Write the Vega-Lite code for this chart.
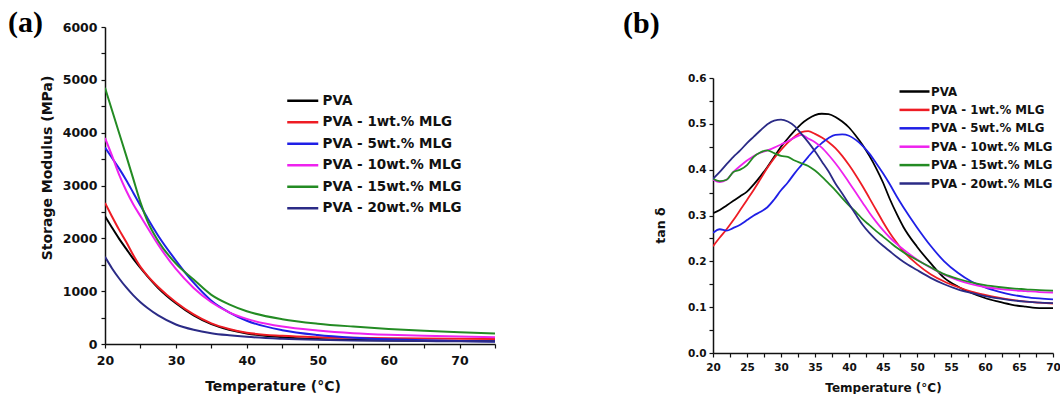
{
  "$schema": "https://vega.github.io/schema/vega-lite/v6.json",
  "padding": {"left": 8, "top": 8, "right": 0, "bottom": 0},
  "config": {
    "view": {"stroke": null},
    "font": "DejaVu Sans",
    "axis": {"grid": false, "domainColor": "#111", "domainWidth": 1.5, "tickColor": "#111", "tickWidth": 1.2, "tickSize": 4, "labelColor": "#111", "labelFont": "DejaVu Sans", "labelFontWeight": "bold", "titleColor": "#111", "titleFont": "DejaVu Sans", "titleFontWeight": "bold", "labelFlush": false, "labelOverlap": false},
    "legend": {"padding": 0, "labelFont": "DejaVu Sans", "labelFontWeight": "bold", "labelColor": "#111", "labelLimit": 400, "symbolStrokeWidth": 2.5, "orient": "none"},
    "title": {"font": "Liberation Serif", "fontSize": 30, "fontWeight": "bold", "anchor": "start", "frame": "group", "color": "#000"}
  },
  "datasets": {
    "sm": [
      {"s":"PVA","T":20,"E":2420},{"s":"PVA","T":21,"E":2200},{"s":"PVA","T":22,"E":1990},{"s":"PVA","T":23,"E":1800},{"s":"PVA","T":24,"E":1610},{"s":"PVA","T":25,"E":1440},{"s":"PVA","T":26,"E":1280},{"s":"PVA","T":27.5,"E":1060},{"s":"PVA","T":30,"E":770},{"s":"PVA","T":32.5,"E":540},{"s":"PVA","T":35,"E":375},{"s":"PVA","T":37.5,"E":270},{"s":"PVA","T":40,"E":200},{"s":"PVA","T":45,"E":130},{"s":"PVA","T":50,"E":95},{"s":"PVA","T":55,"E":78},{"s":"PVA","T":60,"E":68},{"s":"PVA","T":65,"E":62},{"s":"PVA","T":70,"E":57},{"s":"PVA","T":75,"E":54},
      {"s":"PVA - 1wt.% MLG","T":20,"E":2670},{"s":"PVA - 1wt.% MLG","T":21,"E":2410},{"s":"PVA - 1wt.% MLG","T":22,"E":2160},{"s":"PVA - 1wt.% MLG","T":23,"E":1930},{"s":"PVA - 1wt.% MLG","T":24,"E":1680},{"s":"PVA - 1wt.% MLG","T":25,"E":1460},{"s":"PVA - 1wt.% MLG","T":26,"E":1290},{"s":"PVA - 1wt.% MLG","T":27.5,"E":1080},{"s":"PVA - 1wt.% MLG","T":30,"E":790},{"s":"PVA - 1wt.% MLG","T":32.5,"E":560},{"s":"PVA - 1wt.% MLG","T":35,"E":390},{"s":"PVA - 1wt.% MLG","T":37.5,"E":285},{"s":"PVA - 1wt.% MLG","T":40,"E":215},{"s":"PVA - 1wt.% MLG","T":45,"E":155},{"s":"PVA - 1wt.% MLG","T":50,"E":128},{"s":"PVA - 1wt.% MLG","T":55,"E":116},{"s":"PVA - 1wt.% MLG","T":60,"E":108},{"s":"PVA - 1wt.% MLG","T":65,"E":103},{"s":"PVA - 1wt.% MLG","T":70,"E":99},{"s":"PVA - 1wt.% MLG","T":75,"E":96},
      {"s":"PVA - 5wt.% MLG","T":20,"E":3720},{"s":"PVA - 5wt.% MLG","T":21,"E":3520},{"s":"PVA - 5wt.% MLG","T":22,"E":3320},{"s":"PVA - 5wt.% MLG","T":23,"E":3100},{"s":"PVA - 5wt.% MLG","T":24,"E":2860},{"s":"PVA - 5wt.% MLG","T":25,"E":2620},{"s":"PVA - 5wt.% MLG","T":26,"E":2380},{"s":"PVA - 5wt.% MLG","T":27.5,"E":2050},{"s":"PVA - 5wt.% MLG","T":30,"E":1580},{"s":"PVA - 5wt.% MLG","T":32.5,"E":1160},{"s":"PVA - 5wt.% MLG","T":35,"E":820},{"s":"PVA - 5wt.% MLG","T":37.5,"E":600},{"s":"PVA - 5wt.% MLG","T":40,"E":440},{"s":"PVA - 5wt.% MLG","T":45,"E":260},{"s":"PVA - 5wt.% MLG","T":50,"E":170},{"s":"PVA - 5wt.% MLG","T":55,"E":120},{"s":"PVA - 5wt.% MLG","T":60,"E":90},{"s":"PVA - 5wt.% MLG","T":65,"E":70},{"s":"PVA - 5wt.% MLG","T":70,"E":55},{"s":"PVA - 5wt.% MLG","T":75,"E":45},
      {"s":"PVA - 10wt.% MLG","T":20,"E":3900},{"s":"PVA - 10wt.% MLG","T":21,"E":3560},{"s":"PVA - 10wt.% MLG","T":22,"E":3200},{"s":"PVA - 10wt.% MLG","T":23,"E":2900},{"s":"PVA - 10wt.% MLG","T":24,"E":2640},{"s":"PVA - 10wt.% MLG","T":25,"E":2420},{"s":"PVA - 10wt.% MLG","T":26,"E":2200},{"s":"PVA - 10wt.% MLG","T":27.5,"E":1880},{"s":"PVA - 10wt.% MLG","T":30,"E":1420},{"s":"PVA - 10wt.% MLG","T":32.5,"E":1060},{"s":"PVA - 10wt.% MLG","T":35,"E":790},{"s":"PVA - 10wt.% MLG","T":37.5,"E":600},{"s":"PVA - 10wt.% MLG","T":40,"E":475},{"s":"PVA - 10wt.% MLG","T":45,"E":330},{"s":"PVA - 10wt.% MLG","T":50,"E":255},{"s":"PVA - 10wt.% MLG","T":55,"E":205},{"s":"PVA - 10wt.% MLG","T":60,"E":175},{"s":"PVA - 10wt.% MLG","T":65,"E":155},{"s":"PVA - 10wt.% MLG","T":70,"E":140},{"s":"PVA - 10wt.% MLG","T":75,"E":130},
      {"s":"PVA - 15wt.% MLG","T":20,"E":4850},{"s":"PVA - 15wt.% MLG","T":21,"E":4420},{"s":"PVA - 15wt.% MLG","T":22,"E":3990},{"s":"PVA - 15wt.% MLG","T":23,"E":3560},{"s":"PVA - 15wt.% MLG","T":24,"E":3120},{"s":"PVA - 15wt.% MLG","T":25,"E":2680},{"s":"PVA - 15wt.% MLG","T":26,"E":2320},{"s":"PVA - 15wt.% MLG","T":27.5,"E":1950},{"s":"PVA - 15wt.% MLG","T":30,"E":1520},{"s":"PVA - 15wt.% MLG","T":32.5,"E":1220},{"s":"PVA - 15wt.% MLG","T":35,"E":930},{"s":"PVA - 15wt.% MLG","T":37.5,"E":750},{"s":"PVA - 15wt.% MLG","T":40,"E":620},{"s":"PVA - 15wt.% MLG","T":45,"E":470},{"s":"PVA - 15wt.% MLG","T":50,"E":385},{"s":"PVA - 15wt.% MLG","T":55,"E":330},{"s":"PVA - 15wt.% MLG","T":60,"E":285},{"s":"PVA - 15wt.% MLG","T":65,"E":250},{"s":"PVA - 15wt.% MLG","T":70,"E":222},{"s":"PVA - 15wt.% MLG","T":75,"E":200},
      {"s":"PVA - 20wt.% MLG","T":20,"E":1650},{"s":"PVA - 20wt.% MLG","T":21,"E":1430},{"s":"PVA - 20wt.% MLG","T":22,"E":1240},{"s":"PVA - 20wt.% MLG","T":23,"E":1070},{"s":"PVA - 20wt.% MLG","T":24,"E":920},{"s":"PVA - 20wt.% MLG","T":25,"E":790},{"s":"PVA - 20wt.% MLG","T":26,"E":680},{"s":"PVA - 20wt.% MLG","T":27.5,"E":540},{"s":"PVA - 20wt.% MLG","T":30,"E":370},{"s":"PVA - 20wt.% MLG","T":32.5,"E":270},{"s":"PVA - 20wt.% MLG","T":35,"E":205},{"s":"PVA - 20wt.% MLG","T":37.5,"E":165},{"s":"PVA - 20wt.% MLG","T":40,"E":135},{"s":"PVA - 20wt.% MLG","T":45,"E":100},{"s":"PVA - 20wt.% MLG","T":50,"E":80},{"s":"PVA - 20wt.% MLG","T":55,"E":68},{"s":"PVA - 20wt.% MLG","T":60,"E":60},{"s":"PVA - 20wt.% MLG","T":65,"E":55},{"s":"PVA - 20wt.% MLG","T":70,"E":50},{"s":"PVA - 20wt.% MLG","T":75,"E":48}
    ],
    "td": [
      {"s":"PVA","T":20,"v":0.305},{"s":"PVA","T":21,"v":0.312},{"s":"PVA","T":22,"v":0.322},{"s":"PVA","T":23,"v":0.332},{"s":"PVA","T":24,"v":0.342},{"s":"PVA","T":25,"v":0.352},{"s":"PVA","T":26,"v":0.368},{"s":"PVA","T":27,"v":0.386},{"s":"PVA","T":28,"v":0.406},{"s":"PVA","T":29,"v":0.428},{"s":"PVA","T":30,"v":0.45},{"s":"PVA","T":31,"v":0.468},{"s":"PVA","T":32,"v":0.485},{"s":"PVA","T":33,"v":0.5},{"s":"PVA","T":34,"v":0.511},{"s":"PVA","T":35,"v":0.519},{"s":"PVA","T":36,"v":0.522},{"s":"PVA","T":37,"v":0.521},{"s":"PVA","T":38,"v":0.515},{"s":"PVA","T":39,"v":0.505},{"s":"PVA","T":40,"v":0.492},{"s":"PVA","T":41,"v":0.474},{"s":"PVA","T":42,"v":0.454},{"s":"PVA","T":43,"v":0.43},{"s":"PVA","T":44,"v":0.403},{"s":"PVA","T":45,"v":0.372},{"s":"PVA","T":46,"v":0.336},{"s":"PVA","T":47,"v":0.304},{"s":"PVA","T":48,"v":0.275},{"s":"PVA","T":50,"v":0.232},{"s":"PVA","T":52,"v":0.196},{"s":"PVA","T":54,"v":0.164},{"s":"PVA","T":56,"v":0.145},{"s":"PVA","T":58,"v":0.131},{"s":"PVA","T":60,"v":0.12},{"s":"PVA","T":62,"v":0.112},{"s":"PVA","T":64,"v":0.105},{"s":"PVA","T":66,"v":0.101},{"s":"PVA","T":68,"v":0.098},{"s":"PVA","T":70,"v":0.098},
      {"s":"PVA - 1wt.% MLG","T":20,"v":0.233},{"s":"PVA - 1wt.% MLG","T":21,"v":0.252},{"s":"PVA - 1wt.% MLG","T":22,"v":0.27},{"s":"PVA - 1wt.% MLG","T":23,"v":0.29},{"s":"PVA - 1wt.% MLG","T":24,"v":0.312},{"s":"PVA - 1wt.% MLG","T":25,"v":0.334},{"s":"PVA - 1wt.% MLG","T":26,"v":0.356},{"s":"PVA - 1wt.% MLG","T":27,"v":0.38},{"s":"PVA - 1wt.% MLG","T":28,"v":0.404},{"s":"PVA - 1wt.% MLG","T":29,"v":0.425},{"s":"PVA - 1wt.% MLG","T":30,"v":0.443},{"s":"PVA - 1wt.% MLG","T":31,"v":0.459},{"s":"PVA - 1wt.% MLG","T":32,"v":0.472},{"s":"PVA - 1wt.% MLG","T":33,"v":0.482},{"s":"PVA - 1wt.% MLG","T":34,"v":0.484},{"s":"PVA - 1wt.% MLG","T":35,"v":0.478},{"s":"PVA - 1wt.% MLG","T":36,"v":0.47},{"s":"PVA - 1wt.% MLG","T":37,"v":0.46},{"s":"PVA - 1wt.% MLG","T":38,"v":0.447},{"s":"PVA - 1wt.% MLG","T":39,"v":0.43},{"s":"PVA - 1wt.% MLG","T":40,"v":0.41},{"s":"PVA - 1wt.% MLG","T":41,"v":0.388},{"s":"PVA - 1wt.% MLG","T":42,"v":0.364},{"s":"PVA - 1wt.% MLG","T":43,"v":0.338},{"s":"PVA - 1wt.% MLG","T":44,"v":0.312},{"s":"PVA - 1wt.% MLG","T":45,"v":0.286},{"s":"PVA - 1wt.% MLG","T":46,"v":0.262},{"s":"PVA - 1wt.% MLG","T":47,"v":0.241},{"s":"PVA - 1wt.% MLG","T":48,"v":0.222},{"s":"PVA - 1wt.% MLG","T":50,"v":0.194},{"s":"PVA - 1wt.% MLG","T":52,"v":0.172},{"s":"PVA - 1wt.% MLG","T":54,"v":0.156},{"s":"PVA - 1wt.% MLG","T":56,"v":0.144},{"s":"PVA - 1wt.% MLG","T":58,"v":0.134},{"s":"PVA - 1wt.% MLG","T":60,"v":0.127},{"s":"PVA - 1wt.% MLG","T":62,"v":0.121},{"s":"PVA - 1wt.% MLG","T":64,"v":0.116},{"s":"PVA - 1wt.% MLG","T":66,"v":0.112},{"s":"PVA - 1wt.% MLG","T":68,"v":0.11},{"s":"PVA - 1wt.% MLG","T":70,"v":0.108},
      {"s":"PVA - 5wt.% MLG","T":20,"v":0.262},{"s":"PVA - 5wt.% MLG","T":21,"v":0.27},{"s":"PVA - 5wt.% MLG","T":22,"v":0.267},{"s":"PVA - 5wt.% MLG","T":23,"v":0.273},{"s":"PVA - 5wt.% MLG","T":24,"v":0.28},{"s":"PVA - 5wt.% MLG","T":25,"v":0.29},{"s":"PVA - 5wt.% MLG","T":26,"v":0.3},{"s":"PVA - 5wt.% MLG","T":27,"v":0.308},{"s":"PVA - 5wt.% MLG","T":28,"v":0.318},{"s":"PVA - 5wt.% MLG","T":29,"v":0.335},{"s":"PVA - 5wt.% MLG","T":30,"v":0.355},{"s":"PVA - 5wt.% MLG","T":31,"v":0.372},{"s":"PVA - 5wt.% MLG","T":32,"v":0.392},{"s":"PVA - 5wt.% MLG","T":33,"v":0.41},{"s":"PVA - 5wt.% MLG","T":34,"v":0.428},{"s":"PVA - 5wt.% MLG","T":35,"v":0.445},{"s":"PVA - 5wt.% MLG","T":36,"v":0.458},{"s":"PVA - 5wt.% MLG","T":37,"v":0.469},{"s":"PVA - 5wt.% MLG","T":38,"v":0.476},{"s":"PVA - 5wt.% MLG","T":39,"v":0.477},{"s":"PVA - 5wt.% MLG","T":40,"v":0.474},{"s":"PVA - 5wt.% MLG","T":41,"v":0.465},{"s":"PVA - 5wt.% MLG","T":42,"v":0.452},{"s":"PVA - 5wt.% MLG","T":43,"v":0.435},{"s":"PVA - 5wt.% MLG","T":44,"v":0.414},{"s":"PVA - 5wt.% MLG","T":45,"v":0.392},{"s":"PVA - 5wt.% MLG","T":46,"v":0.368},{"s":"PVA - 5wt.% MLG","T":47,"v":0.342},{"s":"PVA - 5wt.% MLG","T":48,"v":0.318},{"s":"PVA - 5wt.% MLG","T":50,"v":0.274},{"s":"PVA - 5wt.% MLG","T":52,"v":0.234},{"s":"PVA - 5wt.% MLG","T":54,"v":0.2},{"s":"PVA - 5wt.% MLG","T":56,"v":0.175},{"s":"PVA - 5wt.% MLG","T":58,"v":0.156},{"s":"PVA - 5wt.% MLG","T":60,"v":0.143},{"s":"PVA - 5wt.% MLG","T":62,"v":0.134},{"s":"PVA - 5wt.% MLG","T":64,"v":0.127},{"s":"PVA - 5wt.% MLG","T":66,"v":0.122},{"s":"PVA - 5wt.% MLG","T":68,"v":0.119},{"s":"PVA - 5wt.% MLG","T":70,"v":0.117},
      {"s":"PVA - 10wt.% MLG","T":20,"v":0.378},{"s":"PVA - 10wt.% MLG","T":21,"v":0.373},{"s":"PVA - 10wt.% MLG","T":22,"v":0.378},{"s":"PVA - 10wt.% MLG","T":23,"v":0.395},{"s":"PVA - 10wt.% MLG","T":24,"v":0.408},{"s":"PVA - 10wt.% MLG","T":25,"v":0.42},{"s":"PVA - 10wt.% MLG","T":26,"v":0.43},{"s":"PVA - 10wt.% MLG","T":27,"v":0.437},{"s":"PVA - 10wt.% MLG","T":28,"v":0.442},{"s":"PVA - 10wt.% MLG","T":29,"v":0.448},{"s":"PVA - 10wt.% MLG","T":30,"v":0.455},{"s":"PVA - 10wt.% MLG","T":31,"v":0.462},{"s":"PVA - 10wt.% MLG","T":32,"v":0.47},{"s":"PVA - 10wt.% MLG","T":33,"v":0.476},{"s":"PVA - 10wt.% MLG","T":34,"v":0.468},{"s":"PVA - 10wt.% MLG","T":35,"v":0.46},{"s":"PVA - 10wt.% MLG","T":36,"v":0.448},{"s":"PVA - 10wt.% MLG","T":37,"v":0.432},{"s":"PVA - 10wt.% MLG","T":38,"v":0.414},{"s":"PVA - 10wt.% MLG","T":39,"v":0.394},{"s":"PVA - 10wt.% MLG","T":40,"v":0.372},{"s":"PVA - 10wt.% MLG","T":41,"v":0.35},{"s":"PVA - 10wt.% MLG","T":42,"v":0.328},{"s":"PVA - 10wt.% MLG","T":43,"v":0.306},{"s":"PVA - 10wt.% MLG","T":44,"v":0.286},{"s":"PVA - 10wt.% MLG","T":45,"v":0.268},{"s":"PVA - 10wt.% MLG","T":46,"v":0.252},{"s":"PVA - 10wt.% MLG","T":47,"v":0.238},{"s":"PVA - 10wt.% MLG","T":48,"v":0.226},{"s":"PVA - 10wt.% MLG","T":50,"v":0.204},{"s":"PVA - 10wt.% MLG","T":52,"v":0.186},{"s":"PVA - 10wt.% MLG","T":54,"v":0.171},{"s":"PVA - 10wt.% MLG","T":56,"v":0.159},{"s":"PVA - 10wt.% MLG","T":58,"v":0.15},{"s":"PVA - 10wt.% MLG","T":60,"v":0.144},{"s":"PVA - 10wt.% MLG","T":62,"v":0.14},{"s":"PVA - 10wt.% MLG","T":64,"v":0.137},{"s":"PVA - 10wt.% MLG","T":66,"v":0.135},{"s":"PVA - 10wt.% MLG","T":68,"v":0.133},{"s":"PVA - 10wt.% MLG","T":70,"v":0.132},
      {"s":"PVA - 15wt.% MLG","T":20,"v":0.38},{"s":"PVA - 15wt.% MLG","T":21,"v":0.375},{"s":"PVA - 15wt.% MLG","T":22,"v":0.378},{"s":"PVA - 15wt.% MLG","T":23,"v":0.395},{"s":"PVA - 15wt.% MLG","T":24,"v":0.4},{"s":"PVA - 15wt.% MLG","T":25,"v":0.41},{"s":"PVA - 15wt.% MLG","T":26,"v":0.428},{"s":"PVA - 15wt.% MLG","T":27,"v":0.438},{"s":"PVA - 15wt.% MLG","T":28,"v":0.442},{"s":"PVA - 15wt.% MLG","T":29,"v":0.436},{"s":"PVA - 15wt.% MLG","T":30,"v":0.43},{"s":"PVA - 15wt.% MLG","T":31,"v":0.428},{"s":"PVA - 15wt.% MLG","T":32,"v":0.42},{"s":"PVA - 15wt.% MLG","T":33,"v":0.414},{"s":"PVA - 15wt.% MLG","T":34,"v":0.408},{"s":"PVA - 15wt.% MLG","T":35,"v":0.398},{"s":"PVA - 15wt.% MLG","T":36,"v":0.385},{"s":"PVA - 15wt.% MLG","T":37,"v":0.37},{"s":"PVA - 15wt.% MLG","T":38,"v":0.355},{"s":"PVA - 15wt.% MLG","T":39,"v":0.338},{"s":"PVA - 15wt.% MLG","T":40,"v":0.322},{"s":"PVA - 15wt.% MLG","T":41,"v":0.308},{"s":"PVA - 15wt.% MLG","T":42,"v":0.292},{"s":"PVA - 15wt.% MLG","T":43,"v":0.279},{"s":"PVA - 15wt.% MLG","T":44,"v":0.266},{"s":"PVA - 15wt.% MLG","T":45,"v":0.254},{"s":"PVA - 15wt.% MLG","T":46,"v":0.242},{"s":"PVA - 15wt.% MLG","T":47,"v":0.23},{"s":"PVA - 15wt.% MLG","T":48,"v":0.22},{"s":"PVA - 15wt.% MLG","T":50,"v":0.203},{"s":"PVA - 15wt.% MLG","T":52,"v":0.187},{"s":"PVA - 15wt.% MLG","T":54,"v":0.172},{"s":"PVA - 15wt.% MLG","T":56,"v":0.162},{"s":"PVA - 15wt.% MLG","T":58,"v":0.154},{"s":"PVA - 15wt.% MLG","T":60,"v":0.148},{"s":"PVA - 15wt.% MLG","T":62,"v":0.144},{"s":"PVA - 15wt.% MLG","T":64,"v":0.141},{"s":"PVA - 15wt.% MLG","T":66,"v":0.139},{"s":"PVA - 15wt.% MLG","T":68,"v":0.137},{"s":"PVA - 15wt.% MLG","T":70,"v":0.136},
      {"s":"PVA - 20wt.% MLG","T":20,"v":0.38},{"s":"PVA - 20wt.% MLG","T":21,"v":0.395},{"s":"PVA - 20wt.% MLG","T":22,"v":0.412},{"s":"PVA - 20wt.% MLG","T":23,"v":0.428},{"s":"PVA - 20wt.% MLG","T":24,"v":0.442},{"s":"PVA - 20wt.% MLG","T":25,"v":0.458},{"s":"PVA - 20wt.% MLG","T":26,"v":0.472},{"s":"PVA - 20wt.% MLG","T":27,"v":0.486},{"s":"PVA - 20wt.% MLG","T":28,"v":0.499},{"s":"PVA - 20wt.% MLG","T":29,"v":0.507},{"s":"PVA - 20wt.% MLG","T":30,"v":0.509},{"s":"PVA - 20wt.% MLG","T":31,"v":0.505},{"s":"PVA - 20wt.% MLG","T":32,"v":0.495},{"s":"PVA - 20wt.% MLG","T":33,"v":0.478},{"s":"PVA - 20wt.% MLG","T":34,"v":0.46},{"s":"PVA - 20wt.% MLG","T":35,"v":0.44},{"s":"PVA - 20wt.% MLG","T":36,"v":0.418},{"s":"PVA - 20wt.% MLG","T":37,"v":0.396},{"s":"PVA - 20wt.% MLG","T":38,"v":0.37},{"s":"PVA - 20wt.% MLG","T":39,"v":0.348},{"s":"PVA - 20wt.% MLG","T":40,"v":0.325},{"s":"PVA - 20wt.% MLG","T":41,"v":0.302},{"s":"PVA - 20wt.% MLG","T":42,"v":0.28},{"s":"PVA - 20wt.% MLG","T":43,"v":0.262},{"s":"PVA - 20wt.% MLG","T":44,"v":0.247},{"s":"PVA - 20wt.% MLG","T":45,"v":0.234},{"s":"PVA - 20wt.% MLG","T":46,"v":0.222},{"s":"PVA - 20wt.% MLG","T":47,"v":0.21},{"s":"PVA - 20wt.% MLG","T":48,"v":0.199},{"s":"PVA - 20wt.% MLG","T":50,"v":0.181},{"s":"PVA - 20wt.% MLG","T":52,"v":0.164},{"s":"PVA - 20wt.% MLG","T":54,"v":0.15},{"s":"PVA - 20wt.% MLG","T":56,"v":0.139},{"s":"PVA - 20wt.% MLG","T":58,"v":0.131},{"s":"PVA - 20wt.% MLG","T":60,"v":0.124},{"s":"PVA - 20wt.% MLG","T":62,"v":0.119},{"s":"PVA - 20wt.% MLG","T":64,"v":0.115},{"s":"PVA - 20wt.% MLG","T":66,"v":0.112},{"s":"PVA - 20wt.% MLG","T":68,"v":0.11},{"s":"PVA - 20wt.% MLG","T":70,"v":0.109}
    ]
  },
  "spacing": 127,
  "resolve": {"scale": {"color": "independent"}, "legend": {"color": "independent"}},
  "hconcat": [
    {
      "title": {"text": "(a)", "dx": -97, "offset": -17},
      "width": 390,
      "height": 317,
      "data": {"name": "sm"},
      "mark": {"type": "line", "strokeWidth": 2, "interpolate": "monotone", "clip": true},
      "encoding": {
        "x": {"field": "T", "type": "quantitative", "scale": {"domain": [20, 75], "nice": false},
          "axis": {"title": "Temperature (°C)", "values": [20,25,30,35,40,45,50,55,60,65,70,75], "labelExpr": "datum.value % 10 === 0 ? datum.label : ''", "labelFontSize": 12.5, "labelPadding": 6, "titleFontSize": 14, "titleX": 167.5, "titlePadding": 13}},
        "y": {"field": "E", "type": "quantitative", "scale": {"domain": [0, 6000], "nice": false},
          "axis": {"title": "Storage Modulus (MPa)", "format": "d", "values": [0,500,1000,1500,2000,2500,3000,3500,4000,4500,5000,5500,6000], "labelExpr": "datum.value % 1000 === 0 ? datum.label : ''", "labelFontSize": 12.5, "labelPadding": 4, "titleFontSize": 14, "titleY": 140.5, "titlePadding": 8}},
        "color": {"field": "s", "type": "nominal",
          "scale": {"domain": ["PVA", "PVA - 1wt.% MLG", "PVA - 5wt.% MLG", "PVA - 10wt.% MLG", "PVA - 15wt.% MLG", "PVA - 20wt.% MLG"], "range": ["#000000", "#ee1c24", "#1f1fe6", "#ee22ee", "#238b23", "#2b2b86"]},
          "legend": {"title": null, "legendX": 191, "legendY": 67, "symbolType": "M-3,0H3", "symbolSize": 107, "labelOffset": 13, "labelFontSize": 13.5, "rowPadding": 6.5}}
      }
    },
    {
      "spacing": 0,
      "vconcat": [
        {
          "title": {"text": "(b)", "dx": -90, "offset": -12},
          "width": 340,
          "height": 46,
          "data": {"values": [{}]},
          "mark": {"type": "point", "opacity": 0}
        },
        {
          "width": 340,
          "height": 275,
          "data": {"name": "td"},
          "mark": {"type": "line", "strokeWidth": 1.8, "interpolate": "monotone", "clip": true},
          "encoding": {
            "x": {"field": "T", "type": "quantitative", "scale": {"domain": [20, 70], "nice": false},
              "axis": {"title": "Temperature (°C)", "values": [20,22.5,25,27.5,30,32.5,35,37.5,40,42.5,45,47.5,50,52.5,55,57.5,60,62.5,65,67.5,70], "labelExpr": "datum.value % 5 === 0 ? datum.label : ''", "labelFontSize": 10.5, "labelPadding": 5, "titleFontSize": 12, "titlePadding": 10}},
            "y": {"field": "v", "type": "quantitative", "scale": {"domain": [0, 0.6], "nice": false},
              "axis": {"title": "tan δ", "values": [0,0.05,0.1,0.15,0.2,0.25,0.3,0.35,0.4,0.45,0.5,0.55,0.6], "labelExpr": "round(datum.value*100) % 10 === 0 ? format(datum.value, '.1f') : ''", "labelFontSize": 10.5, "labelPadding": 3, "titleFontSize": 12.5, "titleY": 147, "titlePadding": 20}},
            "color": {"field": "s", "type": "nominal",
              "scale": {"domain": ["PVA", "PVA - 1wt.% MLG", "PVA - 5wt.% MLG", "PVA - 10wt.% MLG", "PVA - 15wt.% MLG", "PVA - 20wt.% MLG"], "range": ["#000000", "#ee1c24", "#1f1fe6", "#ee22ee", "#238b23", "#2b2b86"]},
              "legend": {"title": null, "legendX": 195, "legendY": 58, "symbolType": "M-3,0H3", "symbolSize": 100, "labelOffset": 10, "labelFontSize": 11.8, "rowPadding": 4.4}}
          }
        }
      ]
    }
  ]
}
